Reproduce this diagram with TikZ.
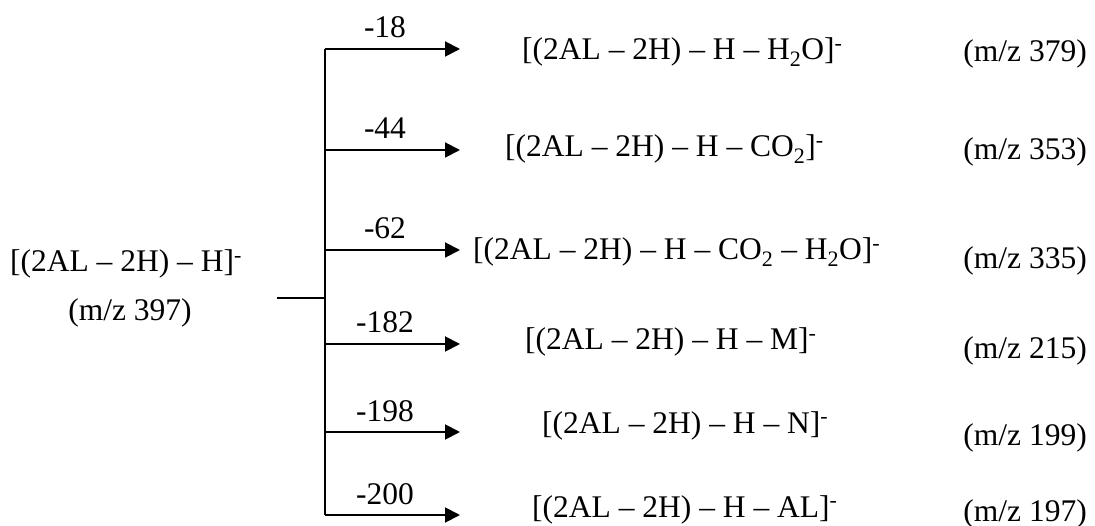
\documentclass[tikz,border=0pt]{standalone}
\usepackage{fontspec}
\setmainfont{Liberation Serif}
\usetikzlibrary{arrows.meta}
\newcommand{\ion}{\textsuperscript{-}}
\begin{document}
\begin{tikzpicture}[x=1pt,y=-1pt,
  txt/.style={inner sep=0pt,anchor=base west,font=\fontsize{31.5}{37}\selectfont},
  mz/.style={inner sep=0pt,anchor=base east,font=\fontsize{31.5}{37}\selectfont},
  lbl/.style={inner sep=0pt,anchor=base,font=\fontsize{31.5}{37}\selectfont},
  src/.style={inner sep=0pt,anchor=base,font=\fontsize{31.5}{37}\selectfont},
  line/.style={line width=1.9pt},
  branch/.style={line width=1.9pt,-{Triangle[length=15pt,width=15pt]}}]
\useasboundingbox (0,0) rectangle (1095,526);
% source
\node[src] (s1) at (126,272) {[(2AL -- 2H) -- H]\ion};
\node[src] (s2) at (130,321) {(m/z 397)};
% spine
\coordinate (stub) at (277,298);
\coordinate (j0) at (325,298);
\coordinate (b1) at (325,49);
\coordinate (b2) at (325,150);
\coordinate (b3) at (325,250);
\coordinate (b4) at (325,344);
\coordinate (b5) at (325,432);
\coordinate (b6) at (325,515);
\coordinate (t1) at (460,49);
\coordinate (t2) at (460,150);
\coordinate (t3) at (460,250);
\coordinate (t4) at (460,344);
\coordinate (t5) at (460,432);
\coordinate (t6) at (460,515);
\draw[line] (stub) -- (j0);
\draw[line] (b1) -- (b6);
\foreach \i in {1,...,6} \draw[branch] (b\i) -- (t\i);
% labels
\node[lbl] (l1) at (385,38) {-18};
\node[lbl] (l2) at (385,139) {-44};
\node[lbl] (l3) at (385,239) {-62};
\node[lbl] (l4) at (385,333) {-182};
\node[lbl] (l5) at (385,421) {-198};
\node[lbl] (l6) at (385,504) {-200};
% products
\node[txt] (p1) at (522,60) {[(2AL -- 2H) -- H -- H\textsubscript{2}O]\ion};
\node[txt] (p2) at (505,157) {[(2AL -- 2H) -- H -- CO\textsubscript{2}]\ion};
\node[txt] (p3) at (473,260) {[(2AL -- 2H) -- H -- CO\textsubscript{2} -- H\textsubscript{2}O]\ion};
\node[txt] (p4) at (525,350) {[(2AL -- 2H) -- H -- M]\ion};
\node[txt] (p5) at (542,433) {[(2AL -- 2H) -- H -- N]\ion};
\node[txt] (p6) at (532,517) {[(2AL -- 2H) -- H -- AL]\ion};
% m/z
\node[mz] (m1) at (1087,62) {(m/z 379)};
\node[mz] (m2) at (1087,160) {(m/z 353)};
\node[mz] (m3) at (1087,269) {(m/z 335)};
\node[mz] (m4) at (1087,359) {(m/z 215)};
\node[mz] (m5) at (1087,446) {(m/z 199)};
\node[mz] (m6) at (1087,521) {(m/z 197)};
\end{tikzpicture}
\end{document}
